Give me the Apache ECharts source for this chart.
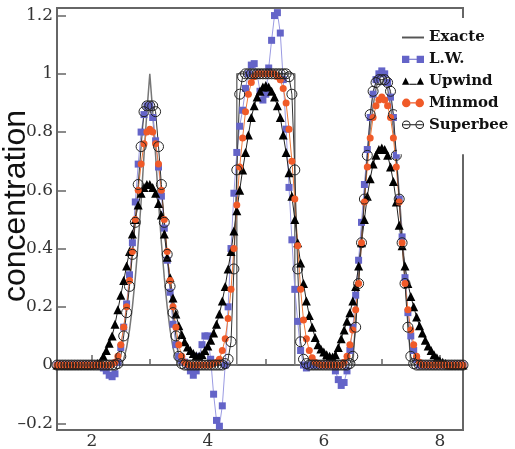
<!DOCTYPE html>
<html>
<head>
<meta charset="utf-8">
<script src="https://cdn.jsdelivr.net/npm/echarts@6/dist/echarts.min.js"></script>
<style>
  html, body { margin: 0; padding: 0; background: #fff; }
  #chart { width: 515px; height: 449px; }
</style>
</head>
<body>
<div id="chart"></div>
<script>
// grille en x, pas de 0.05
const xs = [
  1.40, 1.45, 1.50, 1.55, 1.60, 1.65, 1.70, 1.75, 1.80, 1.85, 1.90, 1.95,
  2.00, 2.05, 2.10, 2.15, 2.20, 2.25, 2.30, 2.35, 2.40, 2.45, 2.50, 2.55, 2.60, 2.65, 2.70, 2.75, 2.80, 2.85, 2.90, 2.95,
  3.00, 3.05, 3.10, 3.15, 3.20, 3.25, 3.30, 3.35, 3.40, 3.45, 3.50, 3.55, 3.60, 3.65, 3.70, 3.75, 3.80, 3.85, 3.90, 3.95,
  4.00, 4.05, 4.10, 4.15, 4.20, 4.25, 4.30, 4.35, 4.40, 4.45, 4.50, 4.55, 4.60, 4.65, 4.70, 4.75, 4.80, 4.85, 4.90, 4.95,
  5.00, 5.05, 5.10, 5.15, 5.20, 5.25, 5.30, 5.35, 5.40, 5.45, 5.50, 5.55, 5.60, 5.65, 5.70, 5.75, 5.80, 5.85, 5.90, 5.95,
  6.00, 6.05, 6.10, 6.15, 6.20, 6.25, 6.30, 6.35, 6.40, 6.45, 6.50, 6.55, 6.60, 6.65, 6.70, 6.75, 6.80, 6.85, 6.90, 6.95,
  7.00, 7.05, 7.10, 7.15, 7.20, 7.25, 7.30, 7.35, 7.40, 7.45, 7.50, 7.55, 7.60, 7.65, 7.70, 7.75, 7.80, 7.85, 7.90, 7.95,
  8.00, 8.05, 8.10, 8.15, 8.20, 8.25, 8.30, 8.35, 8.40
];

// Lax-Wendroff
const lw = [
  0, 0, 0, 0, 0, 0, 0, 0, 0, 0, 0, 0,
  0, 0, 0, -0.005, -0.01, -0.02, -0.035, -0.04, -0.03, 0.01, 0.06, 0.13, 0.21, 0.31, 0.42, 0.56, 0.69, 0.8, 0.86, 0.89,
  0.89, 0.85, 0.77, 0.68, 0.58, 0.47, 0.36, 0.25, 0.14, 0.07, 0.03, 0.015, 0.01, 0, -0.02, -0.035, -0.02, 0.03, 0.07, 0.1,
  0.1, 0.02, -0.1, -0.19, -0.21, -0.14, 0, 0.2, 0.4, 0.59, 0.73, 0.82, 0.875, 0.95, 1, 1.03, 1.035, 1, 0.94, 0.91,
  0.93, 1.02, 1.115, 1.2, 1.21, 1.14, 0.98, 0.81, 0.61, 0.43, 0.26, 0.15, 0.05, 0, -0.01, 0, 0, 0, 0, 0,
  0, 0, 0, 0, -0.02, -0.05, -0.07, -0.06, -0.02, 0.05, 0.13, 0.24, 0.36, 0.49, 0.62, 0.74, 0.85, 0.93, 0.98, 1,
  1.01, 1, 0.97, 0.92, 0.85, 0.72, 0.57, 0.44, 0.3, 0.18, 0.1, 0.05, 0.02, 0, 0, 0, 0, 0, 0, 0,
  0, 0, 0, 0, 0, 0, 0, 0, 0
];

const upwind = [
  0, 0, 0, 0, 0, 0, 0, 0, 0, 0, 0, 0,
  0, 0.002, 0.005, 0.012, 0.03, 0.05, 0.075, 0.1, 0.14, 0.19, 0.24, 0.29, 0.34, 0.39, 0.45, 0.5, 0.55, 0.59, 0.61, 0.62,
  0.62, 0.61, 0.59, 0.555, 0.515, 0.45, 0.37, 0.3, 0.23, 0.175, 0.135, 0.105, 0.08, 0.062, 0.05, 0.04, 0.032, 0.03, 0.036, 0.05,
  0.065, 0.085, 0.11, 0.14, 0.175, 0.22, 0.27, 0.33, 0.39, 0.46, 0.53, 0.6, 0.67, 0.73, 0.79, 0.85, 0.89, 0.92, 0.94, 0.955,
  0.96, 0.955, 0.94, 0.92, 0.89, 0.85, 0.79, 0.73, 0.66, 0.58, 0.5, 0.42, 0.35, 0.28, 0.22, 0.17, 0.13, 0.095, 0.07, 0.055,
  0.045, 0.035, 0.03, 0.028, 0.035, 0.06, 0.09, 0.12, 0.15, 0.18, 0.22, 0.27, 0.34, 0.42, 0.5, 0.58, 0.64, 0.69, 0.72, 0.74,
  0.745, 0.74, 0.72, 0.68, 0.63, 0.56, 0.48, 0.41, 0.34, 0.28, 0.235, 0.2, 0.165, 0.135, 0.11, 0.085, 0.065, 0.05, 0.035, 0.025,
  0.015, 0.01, 0.005, 0, 0, 0, 0, 0, 0
];

const minmod = [
  0, 0, 0, 0, 0, 0, 0, 0, 0, 0, 0, 0,
  0, 0, 0, 0, 0, 0, 0, 0.003, 0.01, 0.03, 0.07, 0.13, 0.2, 0.29, 0.39, 0.5, 0.6, 0.69, 0.76, 0.8,
  0.81, 0.8, 0.76, 0.69, 0.6, 0.5, 0.39, 0.29, 0.2, 0.13, 0.07, 0.03, 0.01, 0.003, 0, 0, 0, 0, 0, 0,
  0, 0, 0.005, 0.01, 0.02, 0.05, 0.09, 0.16, 0.26, 0.4, 0.55, 0.68, 0.78, 0.87, 0.93, 0.97, 0.99, 1, 1, 1,
  1, 1, 1, 1, 0.99, 0.98, 0.95, 0.9, 0.81, 0.7, 0.57, 0.41, 0.26, 0.155, 0.09, 0.05, 0.025, 0.01, 0.005, 0,
  0, 0, 0, 0, 0, 0, 0, 0.01, 0.03, 0.07, 0.12, 0.19, 0.28, 0.42, 0.56, 0.68, 0.78, 0.85, 0.89, 0.91,
  0.92, 0.91, 0.89, 0.85, 0.78, 0.68, 0.56, 0.42, 0.28, 0.19, 0.12, 0.07, 0.03, 0.01, 0, 0, 0, 0, 0, 0,
  0, 0, 0, 0, 0, 0, 0, 0, 0
];

const superbee = [
  0, 0, 0, 0, 0, 0, 0, 0, 0, 0, 0, 0,
  0, 0, 0, 0, 0, 0, 0, 0, 0, 0.005, 0.03, 0.1, 0.18, 0.27, 0.38, 0.49, 0.62, 0.75, 0.87, 0.89,
  0.89, 0.89, 0.87, 0.75, 0.62, 0.49, 0.38, 0.27, 0.18, 0.1, 0.03, 0.005, 0, 0, 0, 0, 0, 0, 0, 0,
  0, 0, 0, 0, 0, 0, 0.005, 0.02, 0.08, 0.33, 0.67, 0.93, 0.99, 1, 1, 1, 1, 1, 1, 1,
  1, 1, 1, 1, 1, 1, 1, 1, 0.99, 0.93, 0.67, 0.33, 0.08, 0.02, 0.005, 0, 0, 0, 0, 0,
  0, 0, 0, 0, 0, 0, 0, 0, 0, 0.005, 0.03, 0.13, 0.28, 0.42, 0.57, 0.72, 0.86, 0.94, 0.97, 0.98,
  0.98, 0.98, 0.97, 0.94, 0.86, 0.72, 0.57, 0.42, 0.28, 0.13, 0.03, 0.005, 0, 0, 0, 0, 0, 0, 0, 0,
  0, 0, 0, 0, 0, 0, 0, 0, 0
];

// solution exacte
const exactX = [
  1.4, 2.5, 2.55, 2.6, 2.65, 2.7, 2.75, 2.8, 2.85, 2.9, 2.95, 3.0, 3.05, 3.1, 3.15, 3.2, 3.25, 3.3, 3.35, 3.4, 3.45, 3.5,
  4.5, 4.5, 5.5, 5.5,
  6.5, 6.55, 6.6, 6.65, 6.7, 6.75, 6.8, 6.85, 6.9, 6.95, 7.0, 7.05, 7.1, 7.15, 7.2, 7.25, 7.3, 7.35, 7.4, 7.45, 7.5,
  8.4
];
const exactY = [
  0, 0, 0.02, 0.06, 0.12, 0.2, 0.3, 0.42, 0.56, 0.72, 0.87, 1.0, 0.87, 0.72, 0.56, 0.42, 0.3, 0.2, 0.12, 0.06, 0.02, 0,
  0, 1, 1, 0,
  0, 0.16, 0.31, 0.45, 0.59, 0.71, 0.81, 0.89, 0.95, 0.99, 1.0, 0.99, 0.95, 0.89, 0.81, 0.71, 0.59, 0.45, 0.31, 0.16, 0,
  0
];

const chart = echarts.init(document.getElementById('chart'));

function pairs(vals) {
  return xs.map((x, i) => [x, vals[i]]);
}

const serif = 'DejaVu Serif';

const option = {
  animation: false,
  grid: {
    left: 57, right: 52, top: 8, bottom: 19,
    containLabel: false,
    outerBoundsMode: 'none',
    show: true, borderColor: '#666', borderWidth: 2
  },
  legend: {
    orient: 'vertical',
    left: 397, top: 18,
    padding: [12, 4, 22, 5],
    itemWidth: 22, itemHeight: 14, itemGap: 6.8,
    backgroundColor: '#fff',
    selectedMode: false,
    textStyle: { fontFamily: serif, fontWeight: 'bold', fontSize: 15, lineHeight: 14, color: '#111' },
    data: [
      { name: 'Exacte', icon: 'path://M0,3.2h18v1.6h-18z', itemStyle: { color: '#555', borderWidth: 0 } },
      { name: 'L.W.', icon: 'path://M0,0h6v6h-6z M6,2.6h6v0.8h-6z M12,0h6v6h-6z', itemStyle: { color: '#6464c8', borderWidth: 0 } },
      { name: 'Upwind', icon: 'path://M0,6L3,0L6,6z M6,5.2h6v0.8h-6z M12,6L15,0L18,6z', itemStyle: { color: '#000', borderWidth: 0 } },
      { name: 'Minmod', icon: 'path://M0,3.5a3.5,3.5 0 1,0 7,0a3.5,3.5 0 1,0 -7,0z M7,3h4v1h-4z M11,3.5a3.5,3.5 0 1,0 7,0a3.5,3.5 0 1,0 -7,0z', itemStyle: { color: '#f05a28', borderWidth: 0 } },
      { name: 'Superbee', icon: 'path://M0,3.5a3.5,3.5 0 1,0 7,0a3.5,3.5 0 1,0 -7,0z M0.8,3.5a2.7,2.7 0 1,1 5.4,0a2.7,2.7 0 1,1 -5.4,0z M1,3.1h5v0.8h-5z M7,3.1h4v0.8h-4z M11,3.5a3.5,3.5 0 1,0 7,0a3.5,3.5 0 1,0 -7,0z M11.8,3.5a2.7,2.7 0 1,1 5.4,0a2.7,2.7 0 1,1 -5.4,0z M12,3.1h5v0.8h-5z', itemStyle: { color: '#111', borderWidth: 0 } }
    ]
  },
  xAxis: {
    type: 'value',
    min: 1.4, max: 8.4,
    splitNumber: 3, minInterval: 2, maxInterval: 2,
    axisLine: { lineStyle: { color: '#666', width: 2 } },
    axisTick: { inside: true, length: 10, lineStyle: { color: '#666', width: 1.5 } },
    minorTick: { show: true, splitNumber: 2, length: 6, lineStyle: { color: '#666', width: 1.5 } },
    splitLine: { show: false },
    axisLabel: {
      showMinLabel: false, showMaxLabel: false,
      margin: 3, fontFamily: serif, fontSize: 17, color: '#333'
    }
  },
  yAxis: {
    type: 'value',
    min: -0.223, max: 1.226,
    splitNumber: 7, minInterval: 0.2, maxInterval: 0.2,
    name: 'concentration',
    nameLocation: 'middle',
    nameGap: 25,
    nameMoveOverlap: false,
    nameTextStyle: { fontFamily: 'Liberation Sans', fontSize: 32, color: '#111', padding: [0, 0, 0, 26] },
    axisLine: { lineStyle: { color: '#666', width: 2 } },
    axisTick: { inside: true, length: 9, lineStyle: { color: '#666', width: 1.5 } },
    splitLine: { show: false },
    axisLabel: {
      showMinLabel: false, showMaxLabel: false,
      margin: 4, fontFamily: serif, fontSize: 17, color: '#333',
      formatter: v => String(Math.round(v * 10) / 10).replace('-', '\u2013')
    }
  },
  series: [
    {
      name: 'Exacte', type: 'line', clip: false, symbol: 'none',
      data: exactX.map((x, i) => [x, exactY[i]]),
      lineStyle: { color: '#777', width: 1.5 },
      itemStyle: { color: '#555' }
    },
    {
      name: 'L.W.', type: 'line', clip: false,
      symbol: 'rect', symbolSize: 7,
      data: pairs(lw),
      lineStyle: { color: '#9a9ae2', width: 1 },
      itemStyle: { color: '#6464c8' }
    },
    {
      name: 'Upwind', type: 'line', clip: false,
      symbol: 'triangle', symbolSize: 9,
      data: pairs(upwind),
      lineStyle: { color: '#222', width: 1 },
      itemStyle: { color: '#000' }
    },
    {
      name: 'Minmod', type: 'line', clip: false,
      symbol: 'circle', symbolSize: 7,
      data: pairs(minmod),
      lineStyle: { color: '#f07a3a', width: 1 },
      itemStyle: { color: '#f05a28' }
    },
    {
      name: 'Superbee', type: 'line', clip: false,
      symbol: 'circle', symbolSize: 10,
      data: pairs(superbee),
      lineStyle: { color: '#333', width: 1 },
      itemStyle: { color: 'rgba(0,0,0,0)', borderColor: '#222', borderWidth: 1 }
    }
  ]
};

chart.setOption(option);
</script>
</body>
</html>
